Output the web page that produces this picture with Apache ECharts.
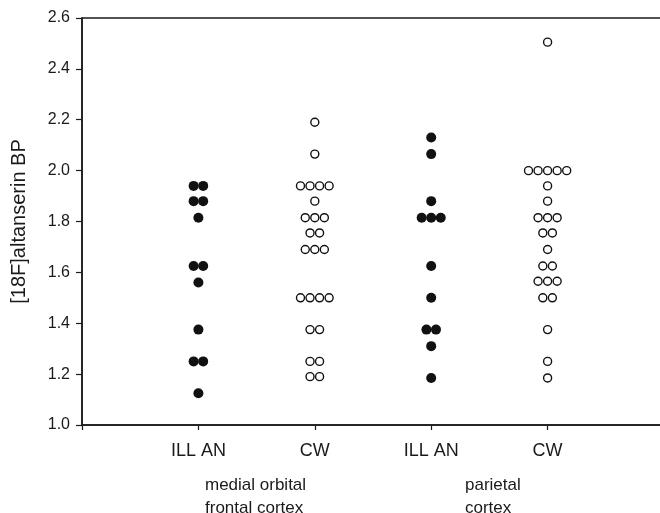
<!DOCTYPE html>
<html>
<head>
<meta charset="utf-8">
<script src="https://cdn.jsdelivr.net/npm/echarts@6/dist/echarts.min.js"></script>
<style>
  html, body { margin: 0; padding: 0; background: #fff; }
  #chart { width: 660px; height: 513px; }
</style>
</head>
<body>
<div id="chart"></div>
<script>
// tick labels on the x axis (positions 0..5, only 1..4 are used)
var xLabels = ['', 'ILL AN', 'CW', 'ILL AN', 'CW', ''];
var groupLabels = ['medial orbital\nfrontal cortex', 'parietal\ncortex'];
var yTicks = [1.0, 1.2, 1.4, 1.6, 1.8, 2.0, 2.2, 2.4, 2.6];

// binding potentials (repeated values = dots side by side)
var illMedial = [1.94, 1.94, 1.88, 1.88, 1.815, 1.625, 1.625, 1.56, 1.375, 1.25, 1.25, 1.125];
var cwMedial = [2.19, 2.065, 1.94, 1.94, 1.94, 1.94, 1.88, 1.815, 1.815, 1.815, 1.755, 1.755,
                1.69, 1.69, 1.69, 1.5, 1.5, 1.5, 1.5, 1.375, 1.375, 1.25, 1.25, 1.19, 1.19];
var illParietal = [2.13, 2.065, 1.88, 1.815, 1.815, 1.815, 1.625, 1.5, 1.375, 1.375, 1.31, 1.185];
var cwParietal = [2.505, 2.0, 2.0, 2.0, 2.0, 2.0, 1.94, 1.88, 1.815, 1.815, 1.815, 1.755, 1.755,
                  1.69, 1.625, 1.625, 1.565, 1.565, 1.565, 1.5, 1.5, 1.375, 1.25, 1.185];

// dots with equal value are set next to each other, centred on the column
var step = 0.082;
function spread(values, pos) {
    var counts = {};
    values.forEach(function (v) { counts[v] = (counts[v] || 0) + 1; });
    var seen = {};
    return values.map(function (v) {
        var k = seen[v] || 0;
        seen[v] = k + 1;
        return [pos + (k - (counts[v] - 1) / 2) * step, v];
    });
}

var filled = spread(illMedial, 1).concat(spread(illParietal, 3));
var open = spread(cwMedial, 2).concat(spread(cwParietal, 4));

var chart = echarts.init(document.getElementById('chart'));
var font = 'Liberation Sans, Arial, sans-serif';

var option = {
    animation: false,
    grid: {
        left: 82, top: 18, width: 582, height: 407,
        outerBoundsMode: 'none',
        show: true, borderColor: '#1a1a1a', borderWidth: 1.5
    },
    xAxis: {
        type: 'value', min: 0, max: 5, interval: 1,
        splitLine: { show: false },
        axisLine: { lineStyle: { color: '#1a1a1a', width: 1.5 } },
        axisTick: { show: true, length: 5, lineStyle: { color: '#1a1a1a', width: 1.2 } },
        axisLabel: {
            margin: 17, fontSize: 18, fontFamily: font, color: '#1a1a1a',
            formatter: function (v) { return xLabels[v] || ''; }
        }
    },
    yAxis: {
        type: 'value', min: yTicks[0], max: yTicks[yTicks.length - 1], interval: 0.2,
        name: '[18F]altanserin BP',
        nameLocation: 'middle', nameGap: 53, nameRotate: 90,
        nameTextStyle: { fontSize: 20, fontFamily: font, color: '#1a1a1a' },
        splitLine: { show: false },
        axisLine: { lineStyle: { color: '#1a1a1a', width: 1.5 } },
        axisTick: { show: true, length: 6, lineStyle: { color: '#1a1a1a', width: 1.2 } },
        axisLabel: {
            margin: 12, fontSize: 16, fontFamily: font, color: '#1a1a1a',
            formatter: function (v) { return v.toFixed(1); }
        }
    },
    graphic: [
        { type: 'text', left: 205, top: 474,
          style: { text: groupLabels[0], font: '17px ' + font, fill: '#1a1a1a', lineHeight: 23 } },
        { type: 'text', left: 465, top: 474,
          style: { text: groupLabels[1], font: '17px ' + font, fill: '#1a1a1a', lineHeight: 23 } }
    ],
    series: [
        {
            name: 'ILL AN', type: 'scatter', symbol: 'circle', symbolSize: 10,
            itemStyle: { color: '#111', opacity: 1 },
            data: filled
        },
        {
            name: 'CW', type: 'scatter', symbol: 'circle', symbolSize: 8,
            itemStyle: { color: '#fff', borderColor: '#111', borderWidth: 1.4, opacity: 1 },
            data: open
        }
    ]
};
chart.setOption(option);
</script>
</body>
</html>
